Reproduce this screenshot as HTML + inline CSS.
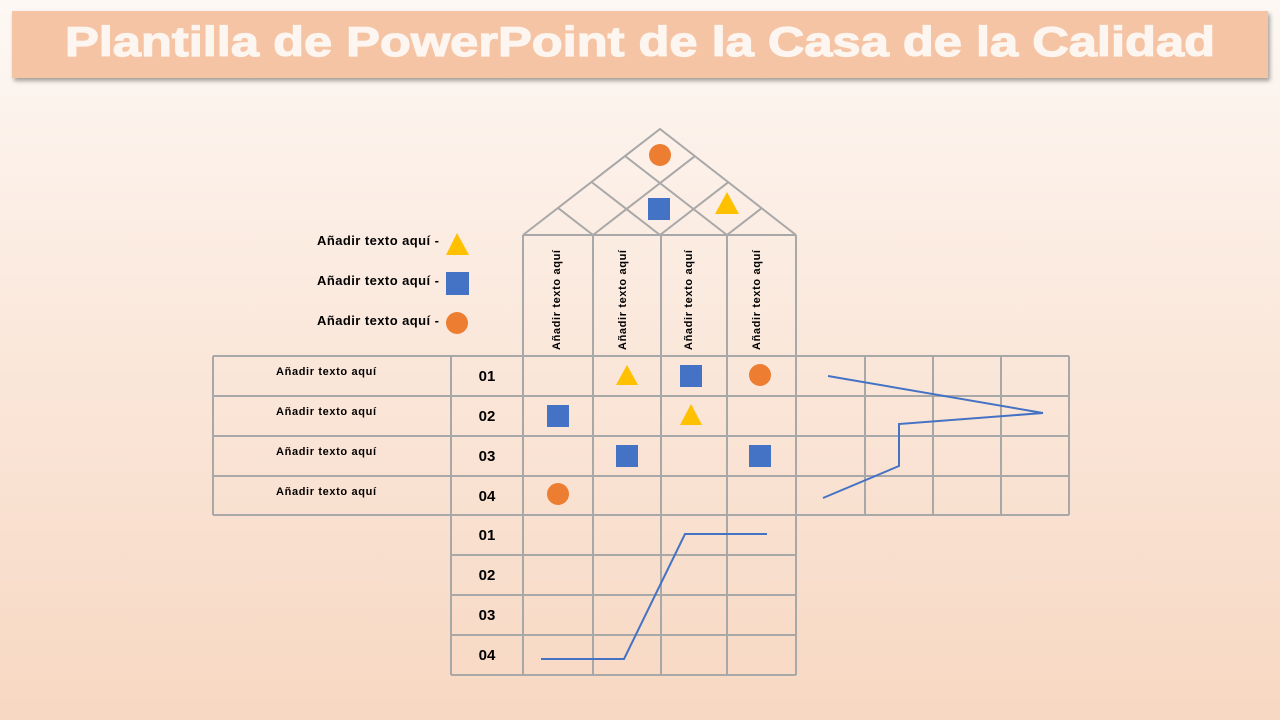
<!DOCTYPE html>
<html><head><meta charset="utf-8"><style>
body{margin:0;width:1280px;height:720px;overflow:hidden;background:linear-gradient(#fdf8f4 0%,#fbeadf 40%,#f7d8c2 100%);font-family:"Liberation Sans",sans-serif;}
</style></head><body>
<svg width="1280" height="720" xmlns="http://www.w3.org/2000/svg" style="position:absolute;left:0;top:0">
<defs><filter id="sh" x="-5%" y="-20%" width="110%" height="150%"><feDropShadow dx="2" dy="3" stdDeviation="2" flood-color="#000" flood-opacity="0.35"/></filter></defs>
<rect x="12" y="11" width="1256" height="67" fill="#f5c4a5" filter="url(#sh)"/>
<text x="65" y="56" textLength="1150" lengthAdjust="spacingAndGlyphs" font-family="Liberation Sans" font-weight="bold" font-size="42" fill="#fdf6f0" stroke="#fdf6f0" stroke-width="1.2">Plantilla de PowerPoint de la Casa de la Calidad</text>
<g stroke="#a8a8a8" stroke-width="2" fill="none">
<polyline points="523,235 660,129 796,235"/>
<line x1="593" y1="235" x2="694.5" y2="156.4"/><line x1="593" y1="235" x2="558" y2="207.9"/>
<line x1="660" y1="235" x2="728" y2="182.4"/><line x1="660" y1="235" x2="591.5" y2="182"/>
<line x1="727" y1="235" x2="761.5" y2="208.3"/><line x1="727" y1="235" x2="625" y2="156"/>
<line x1="523" y1="235" x2="523" y2="675"/><line x1="593" y1="235" x2="593" y2="675"/>
<line x1="661" y1="235" x2="661" y2="675"/><line x1="727" y1="235" x2="727" y2="675"/>
<line x1="796" y1="235" x2="796" y2="675"/><line x1="523" y1="235" x2="796" y2="235"/>
<line x1="213" y1="356" x2="1069" y2="356"/><line x1="213" y1="396" x2="1069" y2="396"/>
<line x1="213" y1="436" x2="1069" y2="436"/><line x1="213" y1="476" x2="1069" y2="476"/>
<line x1="213" y1="515" x2="1069" y2="515"/>
<line x1="213" y1="356" x2="213" y2="515"/><line x1="451" y1="356" x2="451" y2="675"/>
<line x1="865" y1="356" x2="865" y2="515"/><line x1="933" y1="356" x2="933" y2="515"/>
<line x1="1001" y1="356" x2="1001" y2="515"/><line x1="1069" y1="356" x2="1069" y2="515"/>
<line x1="451" y1="555" x2="796" y2="555"/><line x1="451" y1="595" x2="796" y2="595"/>
<line x1="451" y1="635" x2="796" y2="635"/><line x1="451" y1="675" x2="796" y2="675"/>
</g>
<g stroke="#4472c4" stroke-width="2" fill="none">
<polyline points="828,376 1043,413 899,424 899,466 823,498"/>
<polyline points="541,659 624,659 685,534 767,534"/>
</g>
<g fill="#ed7d31"><circle cx="660" cy="155" r="11"/><circle cx="457" cy="323" r="11"/><circle cx="760" cy="375" r="11"/><circle cx="558" cy="494" r="11"/></g>
<g fill="#4472c4"><rect x="648" y="198" width="22" height="22"/><rect x="446" y="272" width="23" height="23"/><rect x="680" y="365" width="22" height="22"/><rect x="547" y="405" width="22" height="22"/><rect x="616" y="445" width="22" height="22"/><rect x="749" y="445" width="22" height="22"/></g>
<g fill="#ffc000"><polygon points="727,192 739,214 715,214"/><polygon points="457,233 469,255 446,255"/><polygon points="627,365 638,385 616,385"/><polygon points="691,404 702,425 680,425"/></g>
<g font-family="Liberation Sans" font-weight="bold" fill="#000">
<g font-size="13"><text x="317" y="245" textLength="122">Añadir texto aquí -</text><text x="317" y="285" textLength="122">Añadir texto aquí -</text><text x="317" y="325" textLength="122">Añadir texto aquí -</text></g>
<g font-size="11"><text x="276" y="375" textLength="100">Añadir texto aquí</text><text x="276" y="415" textLength="100">Añadir texto aquí</text><text x="276" y="455" textLength="100">Añadir texto aquí</text><text x="276" y="495" textLength="100">Añadir texto aquí</text></g>
<g font-size="15" text-anchor="middle"><text x="487" y="381">01</text><text x="487" y="421">02</text><text x="487" y="461">03</text><text x="487" y="501">04</text><text x="487" y="540">01</text><text x="487" y="580">02</text><text x="487" y="620">03</text><text x="487" y="660">04</text></g>
<g font-size="11">
<text transform="translate(560,350) rotate(-90)" textLength="100">Añadir texto aquí</text>
<text transform="translate(626,350) rotate(-90)" textLength="100">Añadir texto aquí</text>
<text transform="translate(692,350) rotate(-90)" textLength="100">Añadir texto aquí</text>
<text transform="translate(760,350) rotate(-90)" textLength="100">Añadir texto aquí</text>
</g></g>
</svg>
</body></html>
